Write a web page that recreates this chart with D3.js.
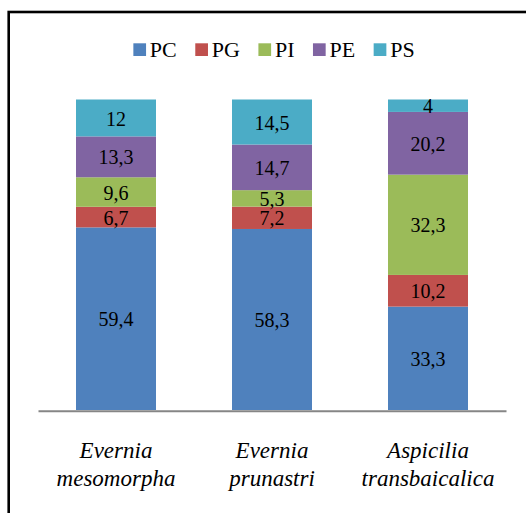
<!DOCTYPE html>
<html>
<head>
<meta charset="utf-8">
<script src="https://cdn.jsdelivr.net/npm/d3@7"></script>
<style>
  html, body { margin: 0; padding: 0; background: #fff; }
  svg { display: block; }
  svg text { font-family: "Liberation Serif", Tinos, "Times New Roman", Times, "DejaVu Serif", serif; fill: #000; }
</style>
</head>
<body>
<svg id="chart" width="526" height="513"></svg>
<script>
// Data
const categories = [["Evernia", "mesomorpha"], ["Evernia", "prunastri"], ["Aspicilia", "transbaicalica"]];
const seriesNames = ["PC", "PG", "PI", "PE", "PS"];
const PC = [59.4, 58.3, 33.3];
const PG = [6.7, 7.2, 10.2];
const PI = [9.6, 5.3, 32.3];
const PE = [13.3, 14.7, 20.2];
const PS = [12, 14.5, 4];
const colors = ["#4F81BD", "#C0504D", "#9BBB59", "#8064A2", "#4BACC6"];

const FONT = '"Liberation Serif", Tinos, "Times New Roman", Times, "DejaVu Serif", serif';
const seriesValues = [PC, PG, PI, PE, PS];
const rows = categories.map((c, i) => {
  const r = { key: c.join(" ") };
  seriesNames.forEach((s, j) => r[s] = seriesValues[j][i]);
  return r;
});

const svg = d3.select("#chart").attr("font-family", FONT);

// Outer border (extends past right/bottom edges)
svg.append("rect")
  .attr("x", 8.7).attr("y", 12)
  .attr("width", 700).attr("height", 700)
  .attr("fill", "none").attr("stroke", "#000").attr("stroke-width", 2.6);

const x = d3.scaleBand().domain(rows.map(d => d.key)).range([38, 506]).paddingInner(0).paddingOuter(0);
const y = d3.scaleLinear().domain([0, 1]).range([410, 99.5]);
const barW = 80;

const stack = d3.stack().keys(seriesNames).offset(d3.stackOffsetExpand);
const stacked = stack(rows);

const g = svg.append("g");
const layers = g.selectAll("g.layer").data(stacked).join("g")
  .attr("class", "layer")
  .attr("fill", (d, i) => colors[i]);

layers.selectAll("rect").data(d => d.map(p => ({ p, key: d.key }))).join("rect")
  .attr("x", d => x(d.p.data.key) + (x.bandwidth() - barW) / 2)
  .attr("width", barW)
  .attr("y", d => y(d.p[1]))
  .attr("height", d => y(d.p[0]) - y(d.p[1]));

// Data labels
layers.selectAll("text").data(d => d.map(p => ({ p, key: d.key }))).join("text")
  .attr("x", d => x(d.p.data.key) + x.bandwidth() / 2)
  .attr("y", d => (y(d.p[0]) + y(d.p[1])) / 2)
  .attr("dy", "0.38em")
  .attr("text-anchor", "middle")
  .attr("font-family", FONT)
  .attr("font-size", 20)
  .attr("fill", "#000")
  .text(d => String(d.p.data[d.key]).replace(".", ","));

// X axis
const axis = svg.append("g")
  .attr("transform", "translate(0,410.7)")
  .call(d3.axisBottom(x).tickSize(0).tickSizeOuter(0).tickFormat(""));
axis.attr("font-family", FONT);
axis.select(".domain").attr("stroke", "#868686").attr("stroke-width", 2);
axis.selectAll(".tick text").remove();
axis.selectAll(".tick").each(function(d, i) {
  const t = d3.select(this).append("text")
    .attr("text-anchor", "middle")
    .attr("font-family", FONT)
    .attr("font-size", 23)
    .attr("font-style", "italic")
    .attr("fill", "#000");
  categories[i].forEach((line, k) => {
    t.append("tspan").attr("x", 0).attr("y", 47 + k * 28).text(line);
  });
});

// Legend
const legend = svg.append("g");
const items = legend.selectAll("g").data(seriesNames).join("g");
items.append("rect")
  .attr("width", 12.7).attr("height", 12.7)
  .attr("y", 43.3)
  .attr("fill", (d, i) => colors[i]);
items.append("text")
  .attr("x", 16.5).attr("y", 57.3)
  .attr("font-family", FONT)
  .attr("font-size", 22)
  .attr("fill", "#000")
  .text(d => d);
let pos = 0;
const offsets = [];
items.each(function(d) {
  const w = d3.select(this).select("text").node().getComputedTextLength();
  offsets.push(pos);
  pos += 16.5 + w + 18.5;
});
const total = pos - 18.5;
const startX = 274 - total / 2;
items.attr("transform", (d, i) => `translate(${startX + offsets[i]},0)`);
</script>
</body>
</html>
